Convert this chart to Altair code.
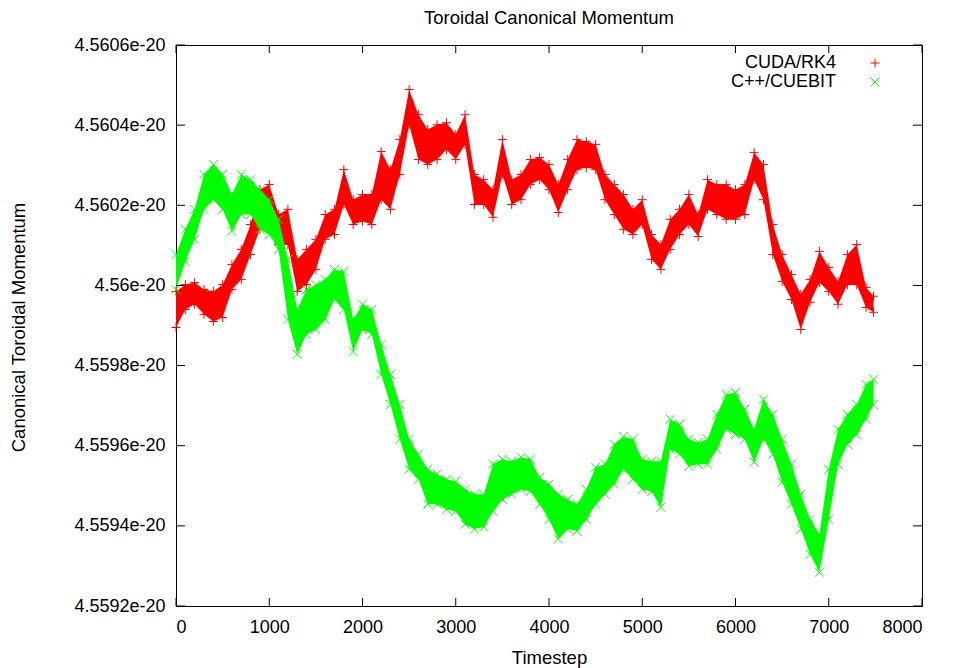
import altair as alt
import pandas as pd

# Sample timesteps along the run (every 100 steps, plus the last one)
TIMESTEPS = list(range(0, 7500, 100)) + [7480]

# Canonical toroidal momentum is stored as an offset from BASE, in units of UNIT.
BASE = 4.56e-20
UNIT = 1e-24

TITLE = "Toroidal Canonical Momentum"
SERIES_NAMES = ["CUDA/RK4", "C++/CUEBIT"]
SERIES_COLORS = ["#ff0000", "#00ff00"]

# Upper / lower envelope of the scatter of each run at every sample
RK4_TOP = [
    -0.15, 0.02, 0.07, -0.10, -0.15, 0.02, 0.52, 0.90, 1.52, 2.39,
    2.52, 1.77, 1.90, 0.65, 0.90, 1.15, 1.77, 1.90, 2.89, 2.14,
    2.27, 2.27, 3.34, 2.89, 3.64, 4.89, 4.26, 3.89, 4.01, 4.06,
    3.77, 4.26, 2.77, 2.64, 2.39, 3.64, 2.64, 2.77, 3.14, 3.19,
    3.02, 2.52, 3.14, 3.64, 3.59, 3.52, 2.77, 2.52, 2.27, 1.90,
    2.14, 1.27, 1.02, 1.65, 1.90, 2.27, 1.77, 2.64, 2.52, 2.52,
    2.39, 2.52, 3.32, 3.02, 1.52, 0.77, 0.27, -0.22, 0.15, 0.85,
    0.45, 0.10, 0.77, 1.02, -0.05, -0.27,
]
RK4_BOTTOM = [
    -1.05, -0.60, -0.47, -0.72, -0.90, -0.80, -0.10, 0.15, 0.77, 1.40,
    1.77, 1.02, 1.02, -0.15, 0.02, 0.40, 1.15, 1.27, 2.02, 1.52,
    1.60, 1.52, 2.14, 1.90, 2.77, 4.01, 3.14, 3.02, 3.14, 3.39,
    3.14, 3.52, 2.02, 2.02, 1.70, 2.77, 2.02, 2.14, 2.52, 2.64,
    2.39, 1.82, 2.39, 2.89, 2.94, 2.89, 2.14, 1.77, 1.40, 1.27,
    1.52, 0.65, 0.40, 0.90, 1.27, 1.52, 1.22, 1.90, 1.77, 1.65,
    1.65, 1.77, 2.64, 2.14, 0.77, 0.10, -0.35, -1.10, -0.42, 0.07,
    -0.15, -0.47, 0.02, 0.02, -0.55, -0.67,
]
CUEBIT_TOP = [
    0.77, 1.40, 1.90, 2.77, 3.02, 2.77, 2.27, 2.77, 2.64, 2.39,
    2.14, 1.65, 0.65, -0.60, -0.10, 0.02, 0.15, 0.40, 0.35, -0.85,
    -0.47, -0.60, -1.47, -2.22, -2.97, -3.84, -4.21, -4.59, -4.71, -4.84,
    -4.89, -5.09, -5.21, -5.21, -4.46, -4.34, -4.39, -4.29, -4.34, -4.79,
    -4.96, -5.21, -5.34, -5.46, -5.09, -4.54, -4.46, -3.97, -3.77, -3.84,
    -4.34, -4.39, -4.39, -3.34, -3.47, -3.84, -3.92, -3.84, -3.22, -2.72,
    -2.67, -3.09, -3.59, -2.84, -3.22, -3.84, -4.46, -5.21, -5.84, -6.21,
    -4.59, -3.59, -3.22, -2.97, -2.47, -2.34,
]
CUEBIT_BOTTOM = [
    -0.10, 0.60, 1.15, 1.90, 2.14, 1.90, 1.35, 1.77, 1.77, 1.40,
    1.27, 0.90, -0.85, -1.72, -1.22, -1.10, -0.85, -0.35, -0.60, -1.65,
    -1.10, -1.22, -2.22, -2.97, -3.84, -4.59, -4.84, -5.46, -5.46, -5.59,
    -5.64, -5.96, -6.08, -6.03, -5.64, -5.34, -5.21, -5.09, -5.14, -5.46,
    -5.84, -6.33, -6.08, -6.13, -5.84, -5.46, -5.21, -4.96, -4.59, -4.84,
    -5.09, -5.14, -5.54, -4.09, -4.21, -4.51, -4.46, -4.46, -4.09, -3.59,
    -3.72, -3.84, -4.41, -3.84, -4.21, -4.91, -5.46, -6.08, -6.71, -7.16,
    -5.84, -4.46, -3.97, -3.72, -3.34, -2.97,
]

X_TICKS = [0, 1000, 2000, 3000, 4000, 5000, 6000, 7000, 8000]
Y_TICKS = [4.5592e-20, 4.5594e-20, 4.5596e-20, 4.5598e-20,
           4.56e-20, 4.5602e-20, 4.5604e-20, 4.5606e-20]
Y_TICK_LABELS = ["4.5592e-20", "4.5594e-20", "4.5596e-20", "4.5598e-20",
                 "4.56e-20", "4.5602e-20", "4.5604e-20", "4.5606e-20"]

FONT = "Liberation Sans"
TEXT_SIZE = 18
TITLE_SIZE = 18.5
W, H = 746, 561
PLUS = "M-1,0L1,0M0,-1L0,1"
CROSS = "M-1,-1L1,1M-1,1L1,-1"


def band(top, bottom):
    return pd.DataFrame({
        "timestep": TIMESTEPS,
        "top": [BASE + v * UNIT for v in top],
        "bottom": [BASE + v * UNIT for v in bottom],
    })


rk4 = band(RK4_TOP, RK4_BOTTOM)
cuebit = band(CUEBIT_TOP, CUEBIT_BOTTOM)

label_lookup = "[" + ",".join(f"'{s}'" for s in Y_TICK_LABELS) + "]"
y_step = Y_TICKS[1] - Y_TICKS[0]

x_scale = alt.Scale(domain=[X_TICKS[0], X_TICKS[-1]], nice=False, zero=False)
y_scale = alt.Scale(domain=[Y_TICKS[0], Y_TICKS[-1]], nice=False, zero=False)

x_axis = alt.Axis(values=X_TICKS, format="d", title="Timestep",
                  titleY=51, titleBaseline="middle", labelPadding=12,
                  domain=False, ticks=False, tickSize=0, grid=False)
y_axis = alt.Axis(values=Y_TICKS, title="Canonical Toroidal Momentum",
                  labelExpr=f"{label_lookup}[round((datum.value - ({Y_TICKS[0]})) / ({y_step}))]",
                  titleX=-158, titleY=282, titleAngle=270,
                  titleBaseline="middle", titleAlign="center", labelPadding=11,
                  domain=False, ticks=False, tickSize=0, grid=False)


def X(field):
    return alt.X(f"{field}:Q", scale=x_scale, axis=x_axis)


def Y(field):
    return alt.Y(f"{field}:Q", scale=y_scale, axis=y_axis)


def series_layers(df, color, shape):
    area = alt.Chart(df).mark_area(color=color, opacity=1).encode(
        x=X("timestep"), y=Y("top"), y2="bottom")
    pts = [
        alt.Chart(df).mark_point(shape=shape, size=81, filled=False, color=color,
                                 strokeWidth=1, opacity=1).encode(
            x=X("timestep"), y=Y(edge))
        for edge in ("top", "bottom")
    ]
    return [area] + pts


layers = []
layers += series_layers(rk4, SERIES_COLORS[0], PLUS)
layers += series_layers(cuebit, SERIES_COLORS[1], CROSS)

# Inward tick marks on all four sides of the frame
xt = pd.DataFrame({"t": X_TICKS})
yt = pd.DataFrame({"v": Y_TICKS})
TICK = 8
layers += [
    alt.Chart(xt).mark_rule(color="black").encode(x=X("t"), y=alt.value(H), y2=alt.value(H - TICK)),
    alt.Chart(xt).mark_rule(color="black").encode(x=X("t"), y=alt.value(0), y2=alt.value(TICK)),
    alt.Chart(yt).mark_rule(color="black").encode(y=Y("v"), x=alt.value(0), x2=alt.value(TICK + 1)),
    alt.Chart(yt).mark_rule(color="black").encode(y=Y("v"), x=alt.value(W), x2=alt.value(W - TICK - 1)),
]

# Key in the top-right corner: label, then the marker
for i, (name, color, shape) in enumerate(zip(SERIES_NAMES, SERIES_COLORS, [PLUS, CROSS])):
    row = pd.DataFrame({"label": [name]})
    ypos = 18 + 19 * i
    layers.append(
        alt.Chart(row).mark_text(align="right", baseline="middle", font=FONT,
                                 fontSize=TEXT_SIZE, color="black").encode(
            text="label:N", x=alt.value(660), y=alt.value(ypos)))
    layers.append(
        alt.Chart(row).mark_point(shape=shape, size=81, filled=False, color=color,
                                  strokeWidth=1, opacity=1).encode(
            x=alt.value(699), y=alt.value(ypos)))

# Chart title, centred above the frame
layers.append(
    alt.Chart(pd.DataFrame({"title": [TITLE]})).mark_text(
        align="center", baseline="middle", font=FONT, fontSize=TITLE_SIZE, color="black").encode(
        text="title:N", x=alt.value(W / 2), y=alt.value(-27)))

chart = alt.layer(*layers).properties(
    width=W,
    height=H,
    background="white",
    autosize=alt.AutoSizeParams(type="none"),
    padding={"left": 176, "top": 45, "right": 35, "bottom": 62},
).configure_view(
    stroke="black", strokeWidth=1
).configure_axis(
    domain=False, ticks=False, tickSize=0, grid=False,
    labelFont=FONT, labelFontSize=TEXT_SIZE, labelColor="black",
    titleFont=FONT, titleFontSize=TITLE_SIZE, titleFontWeight="normal", titleColor="black",
)

chart.save("out.html", embed_options={"renderer": "svg", "actions": False})
